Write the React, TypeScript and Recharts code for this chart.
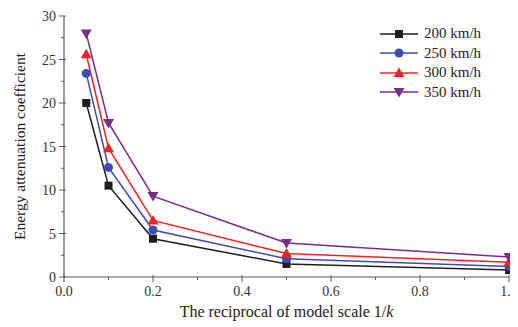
import React from "react";
import { LineChart, Line, XAxis, YAxis } from "recharts";

const scale = [0.05, 0.1, 0.2, 0.5, 1.0];
const v200 = [20.0, 10.5, 4.4, 1.5, 0.8];
const v250 = [23.4, 12.6, 5.4, 2.1, 1.2];
const v300 = [25.6, 14.8, 6.5, 2.7, 1.7];
const v350 = [28.0, 17.7, 9.3, 3.9, 2.3];
const xTicks = [0, 0.1, 0.2, 0.3, 0.4, 0.5, 0.6, 0.7, 0.8, 0.9, 1.0];
const yTicks = [0, 2.5, 5, 7.5, 10, 12.5, 15, 17.5, 20, 22.5, 25, 27.5, 30];

const data = scale.map((s, i) => ({ s, a: v200[i], b: v250[i], c: v300[i], d: v350[i] }));

const series = [
  { key: "a", name: "200 km/h", color: "#1e1e1e", shape: "square" },
  { key: "b", name: "250 km/h", color: "#3b4db0", shape: "circle" },
  { key: "c", name: "300 km/h", color: "#f02424", shape: "up" },
  { key: "d", name: "350 km/h", color: "#7a2c8c", shape: "down" },
];

const FONT = "'Liberation Serif', 'Times New Roman', serif";
const AXIS = "#5a5a5a";

function Marker({ cx, cy, shape, color }: any) {
  if (cx == null || cy == null) return null;
  if (shape === "square") return <rect x={cx - 4} y={cy - 4} width={8} height={8} fill={color} />;
  if (shape === "circle") return <circle cx={cx} cy={cy} r={4.5} fill={color} />;
  if (shape === "up")
    return <polygon points={`${cx},${cy - 5.5} ${cx + 5.5},${cy + 4} ${cx - 5.5},${cy + 4}`} fill={color} />;
  return <polygon points={`${cx - 5.5},${cy - 4} ${cx + 5.5},${cy - 4} ${cx},${cy + 5.5}`} fill={color} />;
}

function XTick({ x, y, payload }: any) {
  const v = payload.value;
  const major = Math.round(v * 10) % 2 === 0;
  return (
    <g>
      <line x1={x} x2={x} y1={major ? y - 2 : y} y2={major ? y + 5 : y + 3} stroke={AXIS} strokeWidth={1} />
      {major && (
        <text x={x} y={y + 19} textAnchor="middle" fontFamily={FONT} fontSize={14} fill="#333">
          {v.toFixed(1)}
        </text>
      )}
    </g>
  );
}

function YTick({ x, y, payload }: any) {
  const v = payload.value;
  const major = v % 5 === 0;
  return (
    <g>
      <line x1={major ? x - 5 : x - 3} x2={major ? x + 2 : x} y1={y} y2={y} stroke={AXIS} strokeWidth={1} />
      {major && (
        <text x={x - 8} y={y + 5} textAnchor="end" fontFamily={FONT} fontSize={14} fill="#333">
          {v}
        </text>
      )}
    </g>
  );
}

function XLabel({ viewBox }: any) {
  const { x, y, width } = viewBox;
  return (
    <text x={x + width / 2} y={y + 40} textAnchor="middle" fontFamily={FONT} fontSize={16} fill="#222">
      The reciprocal of model scale 1/<tspan fontStyle="italic">k</tspan>
    </text>
  );
}

function YLabel({ viewBox }: any) {
  const { y, height } = viewBox;
  const cx = 11;
  const cy = y + height / 2;
  return (
    <text
      x={cx}
      y={cy}
      transform={`rotate(-90 ${cx} ${cy})`}
      textAnchor="middle"
      dominantBaseline="central"
      fontFamily={FONT}
      fontSize={15.5}
      fill="#222"
    >
      Energy attenuation coefficient
    </text>
  );
}

function LegendBox() {
  return (
    <div
      style={{
        position: "absolute",
        top: 16,
        left: 372,
        fontFamily: FONT,
        fontSize: 15,
        color: "#222",
        lineHeight: "19.5px",
      }}
    >
      {series.map((s) => (
        <div key={s.key} style={{ display: "flex", alignItems: "center" }}>
          <svg width={40} height={14} style={{ marginRight: 4 }}>
            <line x1={0} x2={38} y1={7} y2={7} stroke={s.color} strokeWidth={1.5} />
            <Marker cx={19} cy={7} shape={s.shape} color={s.color} />
          </svg>
          <span>{s.name}</span>
        </div>
      ))}
    </div>
  );
}

export default function App() {
  return (
    <div style={{ position: "relative", width: 510, height: 319 }}>
      <LineChart
        width={510}
        height={319}
        data={data}
        margin={{ top: 8, right: 9, bottom: 20, left: 16 }}
        style={{ overflow: "visible" }}
      >
        <XAxis
          dataKey="s"
          type="number"
          domain={[0, 1]}
          ticks={xTicks}
          interval={0}
          height={30}
          tickLine={false}
          tickSize={0}
          tickMargin={0}
          tick={<XTick />}
          stroke={AXIS}
          strokeWidth={1.2}
          label={<XLabel />}
        />
        <YAxis
          type="number"
          domain={[0, 30]}
          ticks={yTicks}
          interval={0}
          width={40}
          tickLine={false}
          tickSize={0}
          tickMargin={0}
          tick={<YTick />}
          stroke={AXIS}
          strokeWidth={1.2}
          label={<YLabel />}
        />
        {series.map((s) => (
          <Line
            key={s.key}
            dataKey={s.key}
            name={s.name}
            stroke={s.color}
            strokeWidth={1.5}
            isAnimationActive={false}
            dot={(p: any) => <Marker key={`${s.key}-${p.index}`} cx={p.cx} cy={p.cy} shape={s.shape} color={s.color} />}
          />
        ))}
      </LineChart>
      <LegendBox />
    </div>
  );
}
